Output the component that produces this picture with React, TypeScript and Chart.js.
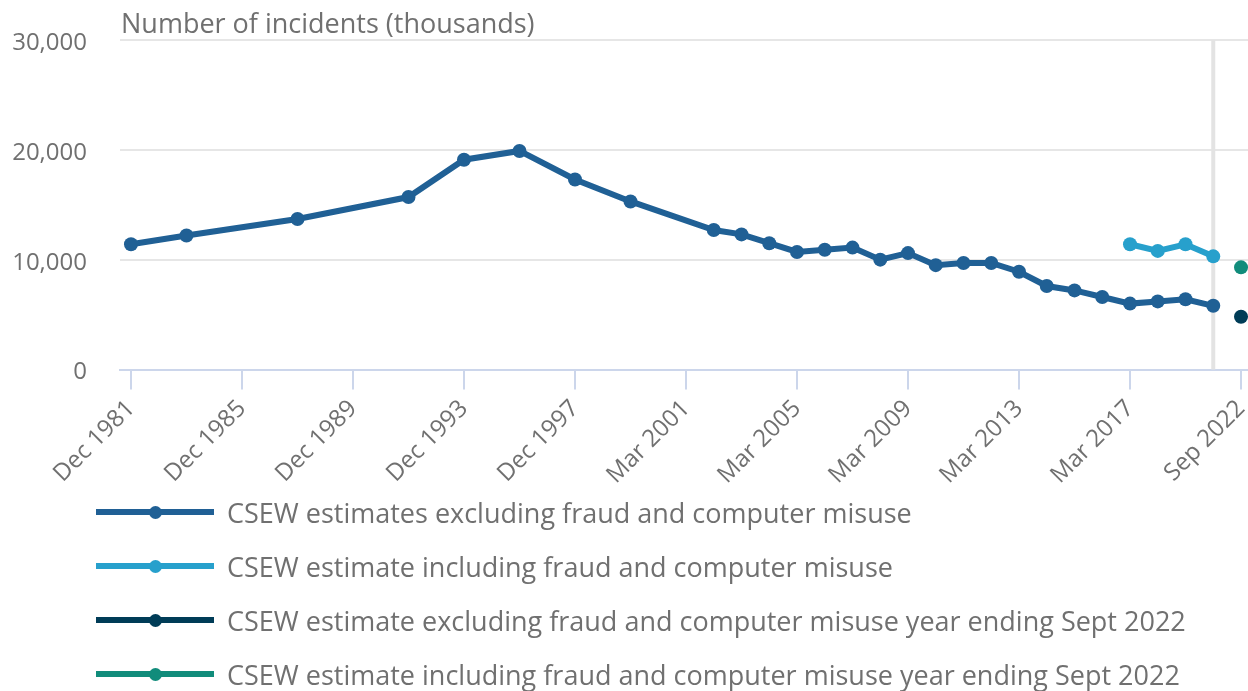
import React, { useEffect, useRef } from "react";
import { Chart, registerables } from "chart.js";
Chart.register(...registerables);

const categories = [
  "Dec 1981", "Dec 1982", "Dec 1983", "Dec 1984", "Dec 1985", "Dec 1986", "Dec 1987", "Dec 1988",
  "Dec 1989", "Dec 1990", "Dec 1991", "Dec 1992", "Dec 1993", "Dec 1994", "Dec 1995", "Dec 1996",
  "Dec 1997", "Dec 1998", "Dec 1999", "Dec 2000", "Mar 2001", "Mar 2002", "Mar 2003", "Mar 2004",
  "Mar 2005", "Mar 2006", "Mar 2007", "Mar 2008", "Mar 2009", "Mar 2010", "Mar 2011", "Mar 2012",
  "Mar 2013", "Mar 2014", "Mar 2015", "Mar 2016", "Mar 2017", "Mar 2018", "Mar 2019", "Mar 2020",
  "Sep 2022",
];

const excludingFraud: (number | null)[] = [
  11400, null, 12200, null, null, null, 13700, null, null, null, 15700, null, 19100, null, 19900, null,
  17300, null, 15300, null, null, 12700, 12300, 11500, 10700, 10900, 11100, 10000, 10600, 9500, 9700,
  9700, 8900, 7600, 7200, 6600, 6000, 6200, 6400, 5800, null,
];
const includingFraud: (number | null)[] = [
  null, null, null, null, null, null, null, null, null, null, null, null, null, null, null, null,
  null, null, null, null, null, null, null, null, null, null, null, null, null, null, null,
  null, null, null, null, null, 11400, 10800, 11400, 10300, null,
];
const excludingSep2022: (number | null)[] = [...Array(40).fill(null), 4800];
const includingSep2022: (number | null)[] = [...Array(40).fill(null), 9300];

const seriesNames = [
  "CSEW estimates excluding fraud and computer misuse",
  "CSEW estimate including fraud and computer misuse",
  "CSEW estimate excluding fraud and computer misuse year ending Sept 2022",
  "CSEW estimate including fraud and computer misuse year ending Sept 2022",
];
const seriesColors = ["#206095", "#27a0cc", "#003c57", "#118c7b"];
const yTicks = [0, 10000, 20000, 30000];
const xTickIndices = [0, 4, 8, 12, 16, 20, 24, 28, 32, 36, 40];
const plotLineIndex = 39;
const yTitle = "Number of incidents (thousands)";

const FONT = "'Open Sans', 'Noto Sans', sans-serif";
const TEXT = "#707070";

const toPoints = (arr: (number | null)[]) =>
  arr.map((v, i) => (v == null ? null : { x: i, y: v })).filter((p) => p !== null) as { x: number; y: number }[];

export default function App() {
  const ref = useRef<HTMLCanvasElement | null>(null);
  useEffect(() => {
    if (!ref.current) return;
    const series = [excludingFraud, includingFraud, excludingSep2022, includingSep2022];
    const extras = {
      id: "extras",
      beforeDatasetsDraw(chart: any) {
        const { ctx, chartArea, scales } = chart;
        const x = scales.x.getPixelForValue(plotLineIndex);
        ctx.save();
        ctx.strokeStyle = "#e3e3e3";
        ctx.lineWidth = 4;
        ctx.beginPath();
        ctx.moveTo(x, chartArea.top);
        ctx.lineTo(x, chartArea.bottom);
        ctx.stroke();
        ctx.restore();
      },
      afterDraw(chart: any) {
        const { ctx, chartArea } = chart;
        ctx.save();
        ctx.font = `27px ${FONT}`;
        ctx.fillStyle = TEXT;
        ctx.textAlign = "left";
        ctx.textBaseline = "alphabetic";
        ctx.fillText(yTitle, chartArea.left + 1, 33);
        ctx.restore();
      },
    };
    const chart = new Chart(ref.current, {
      type: "line",
      data: {
        datasets: series.map((s, i) => ({
          label: seriesNames[i],
          data: toPoints(s),
          borderColor: seriesColors[i],
          backgroundColor: seriesColors[i],
          borderWidth: 6,
          pointRadius: 7,
          pointBorderWidth: 0,
          pointHoverRadius: 7,
          tension: 0,
          spanGaps: true,
        })),
      },
      options: {
        animation: false,
        responsive: true,
        maintainAspectRatio: false,
        layout: { autoPadding: false, padding: { top: 40, left: 0, right: 0, bottom: 0 } },
        plugins: { legend: { display: false }, tooltip: { enabled: false }, title: { display: false } },
        scales: {
          x: {
            type: "linear",
            min: -0.396,
            max: 40.252,
            afterBuildTicks: (s: any) => {
              s.ticks = xTickIndices.map((v) => ({ value: v }));
            },
            afterFit: (s: any) => {
              s.height = 321.5;
              s.paddingLeft = 0;
              s.paddingRight = 0;
            },
            ticks: {
              autoSkip: false,
              minRotation: 45,
              maxRotation: 45,
              padding: 5,
              color: TEXT,
              font: { family: FONT, size: 24 },
              callback: (v: any) => categories[v] ?? "",
            },
            grid: { drawOnChartArea: false, drawTicks: true, tickLength: 20, color: "#ccd6eb", lineWidth: 2 },
            border: { color: "#ccd6eb", width: 2 },
          },
          y: {
            min: 0,
            max: 30000,
            afterBuildTicks: (s: any) => {
              s.ticks = yTicks.map((v) => ({ value: v }));
            },
            afterFit: (s: any) => {
              s.width = 120;
              s.paddingTop = 0;
              s.paddingBottom = 0;
            },
            ticks: {
              crossAlign: "near",
              padding: 33,
              labelOffset: 3,
              color: TEXT,
              font: { family: FONT, size: 24 },
              callback: (v: any) => Number(v).toLocaleString("en-GB"),
            },
            grid: { color: "#e6e6e6", lineWidth: 2, drawTicks: false },
            border: { display: false },
          },
        },
      } as any,
      plugins: [extras],
    });
    return () => chart.destroy();
  }, []);

  return (
    <div style={{ position: "absolute", left: 0, top: 0, width: 1248, height: 691, overflow: "hidden", background: "#fff" }}>
      <div style={{ position: "absolute", left: 0, top: 0, width: 1248, height: 691 }}>
        <canvas ref={ref} />
      </div>
      <div style={{ position: "absolute", left: 0, top: 485, width: 1248 }}>
        {seriesNames.map((name, i) => (
          <div key={name} style={{ height: 54, display: "flex", alignItems: "center" }}>
            <div style={{ position: "relative", marginLeft: 96, width: 118, height: 6, background: seriesColors[i] }}>
              <div
                style={{
                  position: "absolute",
                  left: 52.5,
                  top: -3.5,
                  width: 13,
                  height: 13,
                  borderRadius: "50%",
                  background: seriesColors[i],
                }}
              />
            </div>
            <div style={{ marginLeft: 13, fontFamily: FONT, fontSize: 27, color: TEXT, whiteSpace: "nowrap" }}>{name}</div>
          </div>
        ))}
      </div>
    </div>
  );
}
